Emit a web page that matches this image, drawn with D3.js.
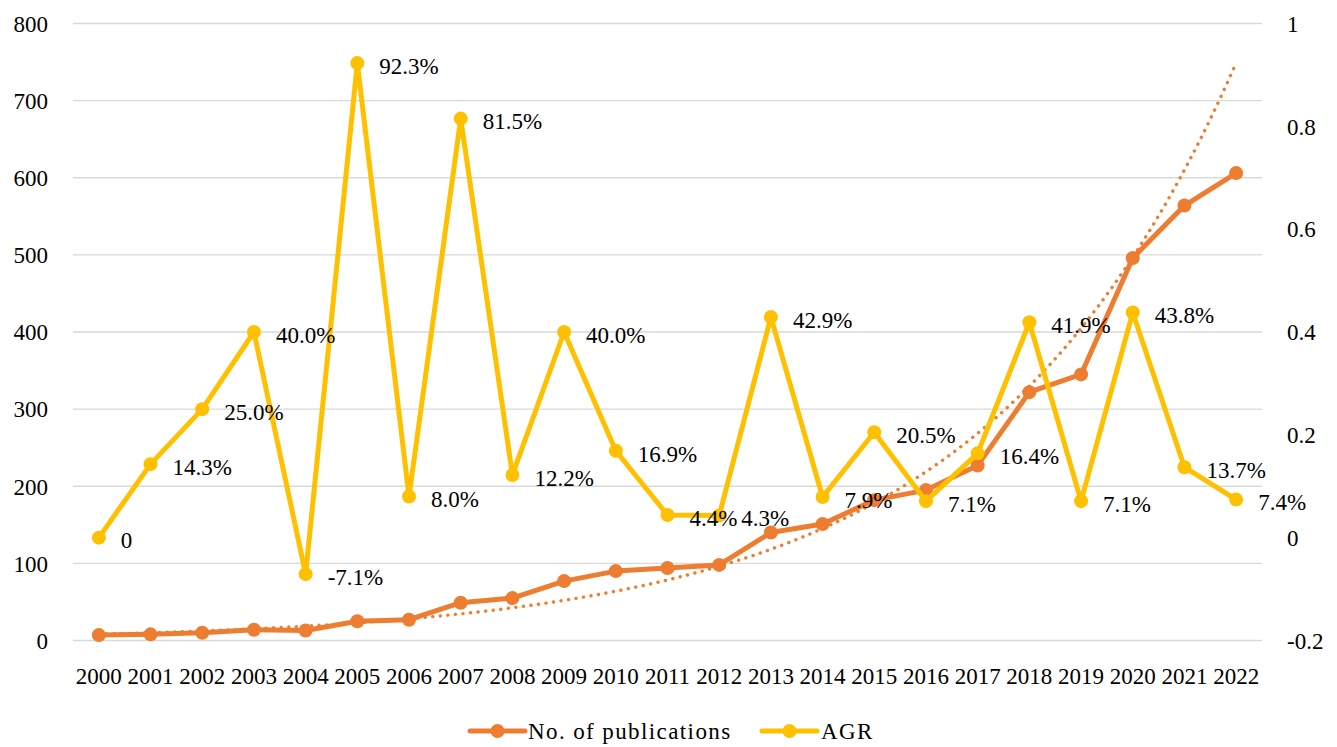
<!DOCTYPE html>
<html><head><meta charset="utf-8">
<script src="https://cdn.jsdelivr.net/npm/d3@7"></script>
<style>
html,body{margin:0;padding:0;background:#fff;}
</style></head>
<body><svg id="c" width="1337" height="747"></svg>
<script>
const years = ["2000","2001","2002","2003","2004","2005","2006","2007","2008","2009","2010","2011","2012","2013","2014","2015","2016","2017","2018","2019","2020","2021","2022"];
const publications = [7,8,10,14,13,25,27,49,55,77,90,94,98,140,151,182,195,227,322,345,496,564,606];
const agr = [0,0.143,0.25,0.40,-0.071,0.923,0.08,0.815,0.122,0.40,0.169,0.044,0.043,0.429,0.079,0.205,0.071,0.164,0.419,0.071,0.438,0.137,0.074];
const agrLabels = ["0","14.3%","25.0%","40.0%","-7.1%","92.3%","8.0%","81.5%","12.2%","40.0%","16.9%","4.4%","4.3%","42.9%","7.9%","20.5%","7.1%","16.4%","41.9%","7.1%","43.8%","13.7%","7.4%"];
const leftTicks = [0,100,200,300,400,500,600,700,800];
const rightTicks = [-0.2,0,0.2,0.4,0.6,0.8,1];
const rightTickLabels = ["-0.2","0","0.2","0.4","0.6","0.8","1"];
const seriesNames = ["No. of publications","AGR"];
const colors = {pub:"#ED7D31", agr:"#FFC000", grid:"#D9D9D9"};

const FONT = '"Liberation Serif", serif';
const svg = d3.select("#c").attr("font-family", FONT);
const L = 73, R = 1262, T = 23.5, B = 640.5;
const x = d3.scaleBand().domain(years).range([L,R]);
const cx = d => x(d) + x.bandwidth()/2;
const yL = d3.scaleLinear().domain([0,800]).range([B,T]);
const yR = d3.scaleLinear().domain([-0.2,1]).range([B,T]);
const FS = 23;
const styleText = sel => sel.attr("font-size",FS).attr("font-family",FONT).style("font-family",FONT).attr("fill","#000");

// gridlines
svg.append("g").selectAll("line").data(leftTicks).join("line")
  .attr("x1",L).attr("x2",R).attr("y1",d=>yL(d)).attr("y2",d=>yL(d))
  .attr("stroke",colors.grid).attr("stroke-width",1.3);

// left axis labels
const axL = svg.append("g").attr("transform",`translate(${L-25},0)`)
  .call(d3.axisLeft(yL).tickValues(leftTicks).tickSize(0).tickPadding(0));
axL.attr("font-family",FONT).attr("font-size",FS);
axL.select(".domain").remove();
axL.selectAll("text").call(styleText).attr("dy","0.34em");

// right axis labels
const axR = svg.append("g").attr("transform",`translate(${1287},0)`)
  .call(d3.axisRight(yR).tickValues(rightTicks).tickFormat((d,i)=>rightTickLabels[i]).tickSize(0).tickPadding(0));
axR.attr("font-family",FONT).attr("font-size",FS);
axR.select(".domain").remove();
axR.selectAll("text").call(styleText).attr("dy","0.34em");

// x axis labels
const axX = svg.append("g").attr("transform",`translate(0,${B+27})`)
  .call(d3.axisBottom(x).tickSize(0).tickPadding(0));
axX.attr("font-family",FONT).attr("font-size",FS);
axX.select(".domain").remove();
axX.selectAll("text").call(styleText).attr("dy","0.71em");

// publications line
const lineL = d3.line().x((d,i)=>cx(years[i])).y(d=>yL(d));
svg.append("path").datum(publications).attr("d",lineL)
  .attr("fill","none").attr("stroke",colors.pub).attr("stroke-width",5).attr("stroke-linejoin","round").attr("stroke-linecap","round");
svg.append("g").selectAll("circle").data(publications).join("circle")
  .attr("cx",(d,i)=>cx(years[i])).attr("cy",d=>yL(d)).attr("r",7).attr("fill",colors.pub);

// exponential trendline computed from publications (least squares on log values)
const xs = publications.map((d,i)=>i+1);
const ls = publications.map(d=>Math.log(d));
const mx = d3.mean(xs), ml = d3.mean(ls);
const b = d3.sum(xs.map((v,i)=>(v-mx)*(ls[i]-ml))) / d3.sum(xs.map(v=>(v-mx)*(v-mx)));
const a = ml - b*mx;
const trendPts = d3.range(0, years.length-1+0.001, 0.1).map(t=>[cx(years[0]) + t*x.step(), yL(Math.exp(a + b*(t+1)))]);
svg.append("path").attr("d",d3.line()(trendPts))
  .attr("fill","none").attr("stroke",colors.pub).attr("stroke-width",3.4)
  .attr("stroke-dasharray","0.1 7.5").attr("stroke-linecap","round");

// AGR line
const lineR = d3.line().x((d,i)=>cx(years[i])).y(d=>yR(d));
svg.append("path").datum(agr).attr("d",lineR)
  .attr("fill","none").attr("stroke",colors.agr).attr("stroke-width",5).attr("stroke-linejoin","round").attr("stroke-linecap","round");
svg.append("g").selectAll("circle").data(agr).join("circle")
  .attr("cx",(d,i)=>cx(years[i])).attr("cy",d=>yR(d)).attr("r",7).attr("fill",colors.agr);

// AGR labels
svg.append("g").selectAll("text").data(agr).join("text")
  .attr("x",(d,i)=>cx(years[i])+22).attr("y",d=>yR(d)+3).attr("dy","0.34em")
  .call(styleText).text((d,i)=>agrLabels[i]);

// legend
const leg = svg.append("g");
const legItems = [{name:seriesNames[0],color:colors.pub,x0:470,tx:528},{name:seriesNames[1],color:colors.agr,x0:762,tx:821}];
legItems.forEach(it=>{
  leg.append("line").attr("x1",it.x0).attr("x2",it.x0+55).attr("y1",731).attr("y2",731)
    .attr("stroke",it.color).attr("stroke-width",5).attr("stroke-linecap","round");
  leg.append("circle").attr("cx",it.x0+27.5).attr("cy",731).attr("r",7).attr("fill",it.color);
  leg.append("text").attr("x",it.tx).attr("y",731).attr("dy","0.34em").call(styleText)
    .attr("letter-spacing",1.4).text(it.name);
});
</script></body></html>
